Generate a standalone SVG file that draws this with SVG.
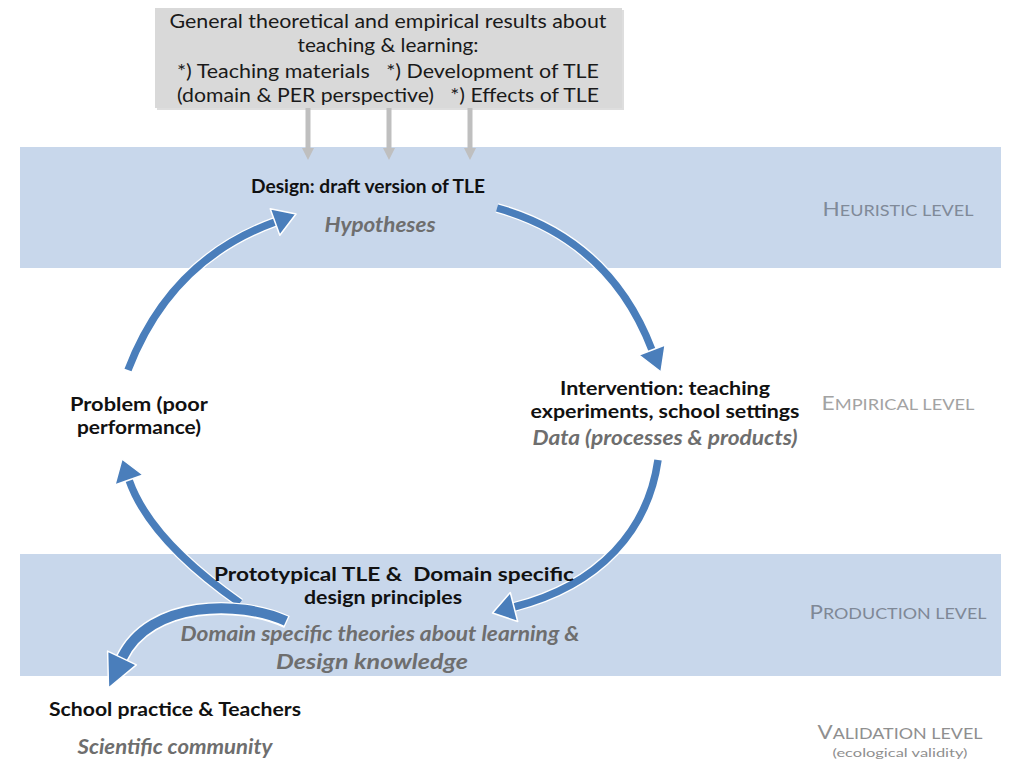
<svg xmlns="http://www.w3.org/2000/svg" width="1024" height="776" viewBox="0 0 1024 776">
<defs>
<style>
.band{fill:#c8d7eb}
.t{font-family:Lato,"Open Sans","Liberation Sans",sans-serif}
.top{font-size:19.5px;fill:#1a1a1a;text-anchor:middle}
.b{font-size:19px;font-weight:bold;fill:#111;text-anchor:middle}
.i{font-size:21px;font-weight:bold;font-style:italic;fill:#6e6e6e;text-anchor:middle}
.lvl{font-size:20px;text-anchor:middle}
.lvl tspan.s{font-size:16px}
.ga{stroke:#bfbfbf;stroke-width:5;fill:none}
.gh{fill:#bfbfbf}
.aw{fill:none;stroke:#fff;stroke-width:10}
.ab{fill:none;stroke:#4a7ebb;stroke-width:7.5}
.hw{fill:#4a7ebb;stroke:#fff;stroke-width:1.5;stroke-linejoin:round}
</style>
</defs>
<rect width="1024" height="776" fill="#fff"/>
<g id="bands">
<rect class="band" x="20" y="147" width="981" height="121"/>
<rect class="band" x="20" y="554" width="981" height="122"/>
</g>
<g id="source-box">
<rect x="157" y="10" width="467" height="100" fill="#c8c8c8" opacity="0.6"/>
<rect x="155" y="8" width="467" height="100" fill="#d9d9d9"/>
<text class="t top" x="388" y="28" textLength="437" lengthAdjust="spacingAndGlyphs">General theoretical and empirical results about</text>
<text class="t top" x="388" y="52" textLength="181" lengthAdjust="spacingAndGlyphs">teaching &amp; learning:</text>
<text class="t top" x="388" y="78" textLength="422" lengthAdjust="spacingAndGlyphs">*) Teaching materials &#160; *) Development of TLE</text>
<text class="t top" x="388" y="102" textLength="422" lengthAdjust="spacingAndGlyphs">(domain &amp; PER perspective) &#160; *) Effects of TLE</text>
</g>
<g id="connectors">
<g id="grey-arrows">
<line class="ga" x1="308" y1="108" x2="308" y2="150"/>
<polygon class="gh" points="302,148 314,148 308,160"/>
<line class="ga" x1="389" y1="108" x2="389" y2="150"/>
<polygon class="gh" points="383,148 395,148 389,160"/>
<line class="ga" x1="470" y1="108" x2="470" y2="150"/>
<polygon class="gh" points="464,148 476,148 470,160"/>
</g>
<g id="arrow-problem-design">
<path class="aw" d="M128,370 Q170,260 275,222"/>
<path class="ab" d="M128,370 Q170,260 275,222"/>
<polygon class="hw" points="279.8,235.2 296,214 270.2,208.8"/>
</g>
<g id="arrow-design-intervention">
<path class="aw" d="M497,208 Q610,240 652,350"/>
<path class="ab" d="M497,208 Q610,240 652,350"/>
<polygon class="hw" points="665.1,345 661,372 638.9,355"/>
</g>
<g id="arrow-intervention-production">
<path class="aw" d="M658,460 C648,530 600,585 514,607"/>
<path class="ab" d="M658,460 C648,530 600,585 514,607"/>
<polygon class="hw" points="517.7,621.5 492.5,613 510.3,592.5"/>
</g>
<g id="arrow-production-problem">
<path class="aw" d="M240,603 Q150,540 129,480"/>
<path class="ab" d="M240,603 Q150,540 129,480"/>
<polygon class="hw" points="143.1,475 122,459 114.9,485"/>
</g>
<g id="arrow-production-school">
<path d="M287,622 C240,600 150,600 122,658" fill="none" stroke="#fff" stroke-width="13"/>
<path d="M286,621 C240,600 150,600 122,658" fill="none" stroke="#4a7ebb" stroke-width="10"/>
<polygon class="hw" points="136.4,664.9 108.5,688 107.6,651.1"/>
</g>
</g>
<g id="node-design">
<text class="t b" x="368" y="193" textLength="234" lengthAdjust="spacingAndGlyphs">Design: draft version of TLE</text>
<text class="t i" x="380" y="232" textLength="111" lengthAdjust="spacingAndGlyphs">Hypotheses</text>
</g>
<g id="node-problem">
<text class="t b" x="139" y="411" textLength="138" lengthAdjust="spacingAndGlyphs">Problem (poor</text>
<text class="t b" x="139" y="434" textLength="124" lengthAdjust="spacingAndGlyphs">performance)</text>
</g>
<g id="node-intervention">
<text class="t b" x="665" y="395" textLength="210" lengthAdjust="spacingAndGlyphs">Intervention: teaching</text>
<text class="t b" x="665" y="418" textLength="269" lengthAdjust="spacingAndGlyphs">experiments, school settings</text>
<text class="t i" x="665" y="445" textLength="265" lengthAdjust="spacingAndGlyphs">Data (processes &amp; products)</text>
</g>
<g id="node-production">
<text class="t b" x="394" y="581" textLength="360" lengthAdjust="spacingAndGlyphs">Prototypical TLE &amp; &#160;Domain specific</text>
<text class="t b" x="383" y="604" textLength="158" lengthAdjust="spacingAndGlyphs">design principles</text>
<text class="t i" x="380" y="641" textLength="399" lengthAdjust="spacingAndGlyphs">Domain specific theories about learning &amp;</text>
<text class="t i" x="372" y="669" textLength="192" lengthAdjust="spacingAndGlyphs">Design knowledge</text>
</g>
<g id="node-school">
<text class="t b" x="175" y="716" textLength="252" lengthAdjust="spacingAndGlyphs">School practice &amp; Teachers</text>
<text class="t i" x="175" y="754" textLength="195" lengthAdjust="spacingAndGlyphs">Scientific community</text>
</g>
<g id="levels">
<text class="t lvl" x="898" y="216" fill="#808a99" textLength="151" lengthAdjust="spacingAndGlyphs">H<tspan class="s">EURISTIC LEVEL</tspan></text>
<text class="t lvl" x="898" y="410" fill="#a3a3a3" textLength="153" lengthAdjust="spacingAndGlyphs">E<tspan class="s">MPIRICAL LEVEL</tspan></text>
<text class="t lvl" x="898" y="619" fill="#7f8896" textLength="177" lengthAdjust="spacingAndGlyphs">P<tspan class="s">RODUCTION LEVEL</tspan></text>
<text class="t lvl" x="900" y="739" fill="#8f8f8f" textLength="165" lengthAdjust="spacingAndGlyphs">V<tspan class="s">ALIDATION LEVEL</tspan></text>
<text class="t" x="900" y="757" font-size="12" fill="#8f8f8f" text-anchor="middle" textLength="135" lengthAdjust="spacingAndGlyphs">(ecological validity)</text>
</g>
</svg>
